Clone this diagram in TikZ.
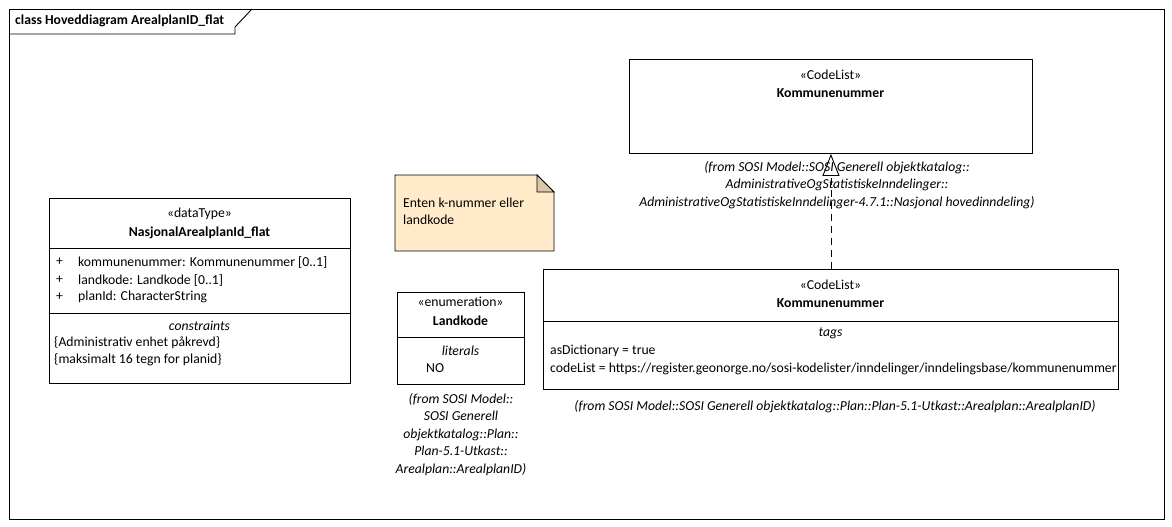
\documentclass[tikz,border=0pt]{standalone}
\usepackage{fontspec}
\setmainfont{Carlito}
\usetikzlibrary{arrows.meta,positioning}
\definecolor{notefill}{RGB}{255,234,202}
\definecolor{foldfill}{RGB}{220,200,168}
\newcommand{\fsz}{\fontsize{13.7}{16}\selectfont}
\tikzset{
  box/.style={draw=black, line width=0.9pt, fill=white, inner sep=0pt, anchor=north west},
  txt/.style={inner sep=0pt, font=\fsz},
  ltxt/.style={txt, anchor=west},
  ctxt/.style={txt, anchor=center},
  sepline/.style={draw=black, line width=0.9pt},
  realize/.style={draw=black, line width=0.9pt, dash pattern=on 7pt off 5pt, -{Triangle[open, length=22pt, width=17pt, line width=0.9pt]}},
}
\begin{document}
\begin{tikzpicture}[x=1pt,y=-1pt]
\useasboundingbox (0,0) rectangle (1172,527);
% frame
\draw[line width=0.9pt] (9,9) rectangle (1164,519);
\draw[line width=0.9pt] (9,34) -- (235,34) -- (235,27) -- (252,9);
\node[ltxt, font=\fsz\bfseries] (title) at (15,21) {class Hoveddiagram ArealplanID\_flat};

% dataType box
\node[box, minimum width=301pt, minimum height=185pt] (dt) at (49,198) {};
\draw[sepline] (49,248) -- (350,248);
\draw[sepline] (49,313) -- (350,313);
\node[ctxt] (dtst) at (199.5,214) {«dataType»};
\node[ctxt, font=\fsz\bfseries] (dtname) at (199.5,233) {NasjonalArealplanId\_flat};
\node[ltxt] (p1) at (56,262) {+};
\node[ltxt] (p2) at (56,280) {+};
\node[ltxt] (p3) at (56,297) {+};
\node[ltxt] (a1) at (78,262) {kommunenummer: Kommunenummer [0..1]};
\node[ltxt] (a2) at (78,280) {landkode: Landkode [0..1]};
\node[ltxt] (a3) at (78,297) {planId: CharacterString};
\node[ctxt, font=\fsz\itshape] (cons) at (199.5,326) {constraints};
\node[ltxt] (c1) at (54,343) {\{Administrativ enhet påkrevd\}};
\node[ltxt] (c2) at (54,360) {\{maksimalt 16 tegn for planid\}};

% note
\draw[line width=0.9pt, fill=notefill] (395,175) -- (537,175) -- (554,192) -- (554,251) -- (395,251) -- cycle;
\draw[line width=0.9pt, fill=foldfill] (537,175) -- (554,192) -- (537,192) -- cycle;
\node[ltxt] (n1) at (403,203) {Enten k-nummer eller};
\node[ltxt] (n2) at (403,220) {landkode};

% Landkode
\node[box, minimum width=127pt, minimum height=92pt] (lk) at (397,292) {};
\draw[sepline] (397,337) -- (524,337);
\node[ctxt] (lkst) at (460.5,302) {«enumeration»};
\node[ctxt, font=\fsz\bfseries] (lkname) at (460.5,321) {Landkode};
\node[ctxt, font=\fsz\itshape] (lit) at (460.5,351) {literals};
\node[ltxt] (no) at (426,368) {NO};
\node[ctxt, font=\fontsize{13.7}{17.5}\selectfont\itshape, align=center, anchor=north] (lkfrom) at (461,393) {(from SOSI Model::\\SOSI Generell\\objektkatalog::Plan::\\Plan-5.1-Utkast::\\Arealplan::ArealplanID)};

% top Kommunenummer
\node[box, minimum width=403pt, minimum height=94pt] (kt) at (629,59) {};
\node[ctxt] (ktst) at (830.5,75) {«CodeList»};
\node[ctxt, font=\fsz\bfseries] (ktname) at (830.5,93) {Kommunenummer};

% bottom Kommunenummer
\node[box, minimum width=575pt, minimum height=120pt] (kb) at (543,269) {};
\draw[sepline] (543,321) -- (1118,321);
\node[ctxt] (kbst) at (830.5,285) {«CodeList»};
\node[ctxt, font=\fsz\bfseries] (kbname) at (830.5,303) {Kommunenummer};
\node[ctxt, font=\fsz\itshape] (tags) at (830.5,333) {tags};
\node[ltxt] (t1) at (550,351) {asDictionary = true};
\node[ltxt] (t2) at (550,369) {codeList = https://register.geonorge.no/sosi-kodelister/inndelinger/inndelingsbase/kommunenummer};
\node[ctxt, font=\fsz\itshape] (kbfrom) at (835,407) {(from SOSI Model::SOSI Generell objektkatalog::Plan::Plan-5.1-Utkast::Arealplan::ArealplanID)};

% realization
\draw[realize] (kb.north) -- (kt.south);

% top from-text (drawn over the connector)
\node[ctxt, font=\fontsize{13.7}{17.5}\selectfont\itshape, align=center, anchor=north] (ktfrom) at (837,161) {(from SOSI Model::SOSI Generell objektkatalog::\\AdministrativeOgStatistiskeInndelinger::\\AdministrativeOgStatistiskeInndelinger-4.7.1::Nasjonal hovedinndeling)};
\end{tikzpicture}
\end{document}
